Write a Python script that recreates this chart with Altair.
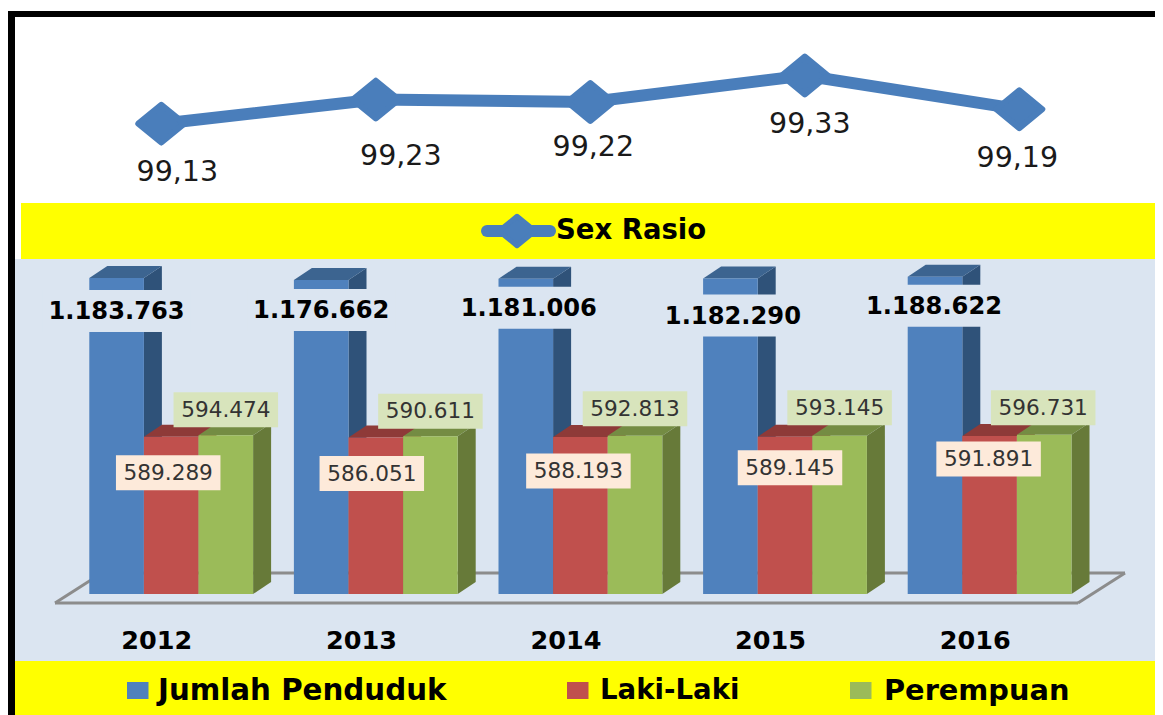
import altair as alt
import pandas as pd

YEARS = [2012, 2013, 2014, 2015, 2016]
TOTAL = [1183763, 1176662, 1181006, 1182290, 1188622]
MALE = [589289, 586051, 588193, 589145, 591891]
FEMALE = [594474, 590611, 592813, 593145, 596731]
SEX_RATIO = [99.13, 99.23, 99.22, 99.33, 99.19]
RATIO_TEXT = ["99,13", "99,23", "99,22", "99,33", "99,19"]
LEGEND = ["Jumlah Penduduk", "Laki-Laki", "Perempuan"]

# label nudges, in pixels, away from the default anchor of each label
TOTAL_NUDGE = [(0, 33), (0, 30), (3, 29), (2.5, 37), (-1, 29)]
MALE_NUDGE = [(-3, 36), (-4, 36), (-2, 34), (5, 31), (-1, 23)]
FEMALE_NUDGE = [(0, -25.5), (0, -25), (0, -27), (0, -28), (-1, -27)]
RATIO_NUDGE = [(16, 48), (25, 56), (3, 45), (5, 49), (-2, 49)]

FONT = "DejaVu Sans"
PANEL = "#DBE5F1"
YELLOW = "#FFFF00"
COL = {
    "total": ("#4F81BD", "#3C6490", "#2F5279"),
    "male": ("#C0504D", "#8E3A38", "#7F3331"),
    "female": ("#9BBB59", "#748C43", "#677A39"),
}

# scales: 204.6 px per year group, 3746 people per px
PX_X = 1 / 204.6
PX_Y = 3746.0
BAR = 54.6 * PX_X
DX = 18 * PX_X
DY = 12 * PX_Y
xs = alt.Scale(domain=[2012, 2017], range=[81.3, 81.3 + 1023], nice=False, zero=False)
ys = alt.Scale(domain=[0, 1200000], range=[586, 586 - 1200000 / PX_Y], nice=False, zero=False)
xl = alt.Scale(domain=[2012, 2016], range=[153.3, 1011.3], nice=False, zero=False)
yl = alt.Scale(domain=[99.0, 99.4], range=[147, 50.6], nice=False, zero=False)

one = alt.Data(values=[{"k": 0}])
W = 1147


def box(x, x2, y, y2, color):
    return alt.Chart(one).mark_rect(color=color).encode(
        x=alt.value(x), x2=alt.value(x2), y=alt.value(y), y2=alt.value(y2))


def seg(x, x2, y, y2):
    return alt.Chart(one).mark_rule(color="#8C8C8C", strokeWidth=3).encode(
        x=alt.value(x), x2=alt.value(x2), y=alt.value(y), y2=alt.value(y2))


def label(text, x, y, size, anchor="left", weight="bold"):
    return alt.Chart(one).mark_text(
        text=text, font=FONT, fontSize=size, fontWeight=weight, align=anchor,
        baseline="middle", color="#000000").encode(x=alt.value(x), y=alt.value(y))


def series_layers(vals, slot, key):
    front_c, top_c, side_c = COL[key]
    front, side, top = [], [], []
    for yr, v in zip(YEARS, vals):
        l = yr + slot * BAR
        r = l + BAR
        front.append({"x": l, "x2": r, "y": v, "y2": 0})
        side += [
            {"g": yr, "x": r, "y": v, "y2": 0},
            {"g": yr, "x": r + DX, "y": v + DY, "y2": DY},
        ]
        top += [
            {"g": yr, "x": l, "y": v, "y2": v},
            {"g": yr, "x": l + DX, "y": v + DY, "y2": v},
            {"g": yr, "x": r, "y": v + DY, "y2": v},
            {"g": yr, "x": r + DX, "y": v + DY, "y2": v + DY},
        ]
    out = []
    for rows, c in ((side, side_c), (top, top_c)):
        out.append(alt.Chart(pd.DataFrame(rows)).mark_area(color=c, opacity=1).encode(
            x=alt.X("x:Q", scale=xs, axis=None),
            y=alt.Y("y:Q", scale=ys, axis=None, stack=None),
            y2="y2:Q",
            detail="g:N",
        ))
    out.append(alt.Chart(pd.DataFrame(front)).mark_rect(color=front_c).encode(
        x=alt.X("x:Q", scale=xs, axis=None), x2="x2:Q",
        y=alt.Y("y:Q", scale=ys, axis=None), y2="y2:Q",
    ))
    return out


def label_table(vals, slot, nudges, w, h):
    rows = []
    for yr, v, (nx, ny) in zip(YEARS, vals, nudges):
        cx = yr + (slot + 0.5) * BAR + nx * PX_X
        cy = v - ny * PX_Y
        rows.append({
            "cx": cx, "cy": cy,
            "l": cx - w / 2 * PX_X, "r": cx + w / 2 * PX_X,
            "t": cy + h / 2 * PX_Y, "b": cy - h / 2 * PX_Y,
            "text": f"{v:,}".replace(",", "."),
        })
    return pd.DataFrame(rows)


def label_layers(tbl, fill, size, weight, color, dy=0):
    b = alt.Chart(tbl).mark_rect(color=fill).encode(
        x=alt.X("l:Q", scale=xs, axis=None), x2="r:Q",
        y=alt.Y("t:Q", scale=ys, axis=None), y2="b:Q",
    )
    t = alt.Chart(tbl).mark_text(
        font=FONT, fontSize=size, fontWeight=weight, color=color, baseline="middle", dy=dy
    ).encode(
        x=alt.X("cx:Q", scale=xs, axis=None),
        y=alt.Y("cy:Q", scale=ys, axis=None),
        text="text:N",
    )
    return b, t


# chrome
layers = [
    box(0, W, 3, 9, "#000000"),
    box(0, 7, 3, 707, "#000000"),
    box(7, W, 251, 653, PANEL),
    box(13, W, 195, 251, YELLOW),
    box(7, W, 653, 707, YELLOW),
    # floor
    seg(47, 1070, 595, 595),
    seg(94, 1117, 565, 565),
    seg(47, 94, 595, 565),
    seg(1070, 1117, 595, 565),
]

# bars
t_bx, t_tx = label_layers(label_table(TOTAL, 0, TOTAL_NUDGE, 148, 42), PANEL, 24.2, "bold", "#000000", dy=1.5)
layers += series_layers(TOTAL, 0, "total") + [t_bx]
layers += series_layers(MALE, 1, "male")
layers += series_layers(FEMALE, 2, "female")
m_bx, m_tx = label_layers(label_table(MALE, 1, MALE_NUDGE, 104.5, 35), "#FDEADA", 21.6, "normal", "#333333", dy=1.5)
f_bx, f_tx = label_layers(label_table(FEMALE, 2, FEMALE_NUDGE, 104.5, 35), "#D8E4BC", 21.6, "normal", "#333333", dy=1)
layers += [t_tx, f_bx, f_tx, m_bx, m_tx]

# year labels
yt = pd.DataFrame({"x": [y + 67.5 * PX_X for y in YEARS], "text": [str(y) for y in YEARS]})
layers.append(alt.Chart(yt).mark_text(
    font=FONT, fontSize=25.5, fontWeight="bold", color="#000000", baseline="middle"
).encode(x=alt.X("x:Q", scale=xs, axis=None), y=alt.value(633), text="text:N"))

# sex ratio line
lt = pd.DataFrame({"x": YEARS, "y": SEX_RATIO})
DIAMOND = "M-1,0L0,-0.82L1,0L0,0.82Z"
layers.append(alt.Chart(lt).mark_line(color="#4A7EBB", strokeWidth=12).encode(
    x=alt.X("x:Q", scale=xl, axis=None), y=alt.Y("y:Q", scale=yl, axis=None)))
layers.append(alt.Chart(lt).mark_point(
    shape=DIAMOND, size=2116, filled=True, opacity=1, color="#4A7EBB",
    stroke="#4A7EBB", strokeWidth=6, strokeJoin="round"
).encode(x=alt.X("x:Q", scale=xl, axis=None), y=alt.Y("y:Q", scale=yl, axis=None)))
lab = pd.DataFrame({
    "x": [y + n[0] / 214.5 for y, n in zip(YEARS, RATIO_NUDGE)],
    "y": [v - n[1] / 241 for v, n in zip(SEX_RATIO, RATIO_NUDGE)],
    "text": RATIO_TEXT,
})
layers.append(alt.Chart(lab).mark_text(
    font=FONT, fontSize=28.5, color="#1A1A1A", baseline="middle"
).encode(x=alt.X("x:Q", scale=xl, axis=None), y=alt.Y("y:Q", scale=yl, axis=None), text="text:N"))

# sex ratio legend
layers.append(alt.Chart(one).mark_rule(color="#4A7EBB", strokeWidth=12, strokeCap="round").encode(
    x=alt.value(479), x2=alt.value(542), y=alt.value(223)))
layers.append(alt.Chart(one).mark_point(
    shape=DIAMOND, size=1296, filled=True, opacity=1, color="#4A7EBB",
    stroke="#4A7EBB", strokeWidth=5, strokeJoin="round"
).encode(x=alt.value(509), y=alt.value(223)))
layers.append(label("Sex Rasio", 548, 223, 27.5))

# bottom legend
for name, key, sx, tx, fs in zip(LEGEND, COL, (119, 559, 842), (150, 592, 876), (29.3, 27.6, 28.8)):
    layers.append(box(sx, sx + 21.5, 674, 691, COL[key][0]))
    layers.append(label(name, tx, 683, fs))

chart = alt.layer(*layers).resolve_scale(x="independent", y="independent").properties(
    width=W, height=707, padding=0,
    autosize=alt.AutoSizeParams(type="fit", contains="padding"),
    background="#FFFFFF",
).configure_view(stroke=None)

chart.save("out.html", embed_options={"renderer": "svg", "actions": False})
